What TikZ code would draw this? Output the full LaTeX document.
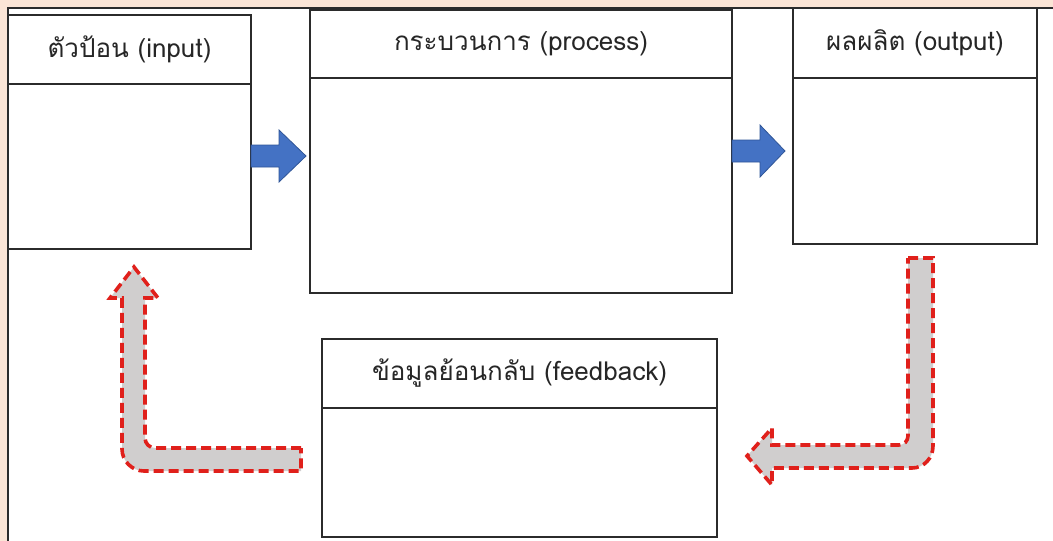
\documentclass[tikz,border=0pt]{standalone}
\usepackage{fontspec}
\setmainfont[Script=Thai]{Loma}
\usetikzlibrary{positioning}
\definecolor{peach}{HTML}{FBE5D6}
\definecolor{boxline}{HTML}{2B2B2B}
\definecolor{arrowblue}{HTML}{4472C4}
\definecolor{arrowedge}{HTML}{2F5597}
\definecolor{loopred}{HTML}{E0201B}
\definecolor{loopgray}{HTML}{D0CECE}
\tikzset{
  boxhead/.style={draw=boxline, line width=1.8pt, fill=white, inner sep=0pt,
    outer sep=0pt, text=black!85, font=\fontsize{26}{29}\selectfont},
  boxbody/.style={draw=boxline, line width=1.8pt, fill=white, inner sep=0pt,
    outer sep=0pt},
  blockarrow/.style={fill=arrowblue, draw=arrowedge, line width=0.8pt},
  looparrow/.style={fill=loopgray, draw=loopred, line width=3.6pt,
    dash pattern=on 10pt off 5pt}
}
\begin{document}
\begin{tikzpicture}[x=1pt,y=-1pt]
\useasboundingbox (0,0) rectangle (1053,541);
\clip (0,0) rectangle (1053,541);
\fill[peach] (0,0) rectangle (1053,541);
\draw[fill=white, draw=boxline, line width=1.2pt] (8,8) rectangle (1070,560);

% input
\node[boxhead, minimum width=243pt, minimum height=69pt, anchor=north west] (inhead) at (8,15) {ตัวป้อน (input)};
\node[boxbody, minimum width=243pt, minimum height=165pt, below=0pt of inhead] (inbody) {};

% process
\node[boxhead, minimum width=422pt, minimum height=68pt, anchor=north west] (prochead) at (310,10) {กระบวนการ (process)};
\node[boxbody, minimum width=422pt, minimum height=215pt, below=0pt of prochead] (procbody) {};

% output
\node[boxhead, minimum width=244pt, minimum height=70pt, anchor=north west] (outhead) at (793,8) {ผลผลิต (output)};
\node[boxbody, minimum width=244pt, minimum height=166pt, below=0pt of outhead] (outbody) {};

% feedback
\node[boxhead, minimum width=395pt, minimum height=69pt, anchor=north west] (fbhead) at (322,339) {ข้อมูลย้อนกลับ (feedback)};
\node[boxbody, minimum width=395pt, minimum height=129pt, below=0pt of fbhead] (fbbody) {};

% block arrows
\filldraw[blockarrow] (inbody.east |- 0,145) -- ++(28,0) -- ++(0,-15) -- ++(27,26)
  -- ++(-27,26) -- ++(0,-15) -- ++(-28,0) -- cycle;
\filldraw[blockarrow] (procbody.east |- 0,140) -- ++(28,0) -- ++(0,-15) -- ++(25,26)
  -- ++(-25,26) -- ++(0,-15) -- ++(-28,0) -- cycle;

% feedback loop
\filldraw[looparrow] (908,258) -- (933,258) -- (933,446)
  .. controls (933,458) and (924,468) .. (912,468) -- (772,468) -- (772,485)
  -- (747,456) -- (772,428) -- (772,445) -- (899,445)
  .. controls (904,445) and (908,441) .. (908,436) -- cycle;
\filldraw[looparrow] (301,448) -- (155,448)
  .. controls (149.5,448) and (145,443.5) .. (145,438) -- (145,298) -- (158,298)
  -- (134,267) -- (110,298) -- (122,298) -- (122,449)
  .. controls (122,461) and (132,471) .. (144,471) -- (301,471) -- cycle;
\end{tikzpicture}
\end{document}
